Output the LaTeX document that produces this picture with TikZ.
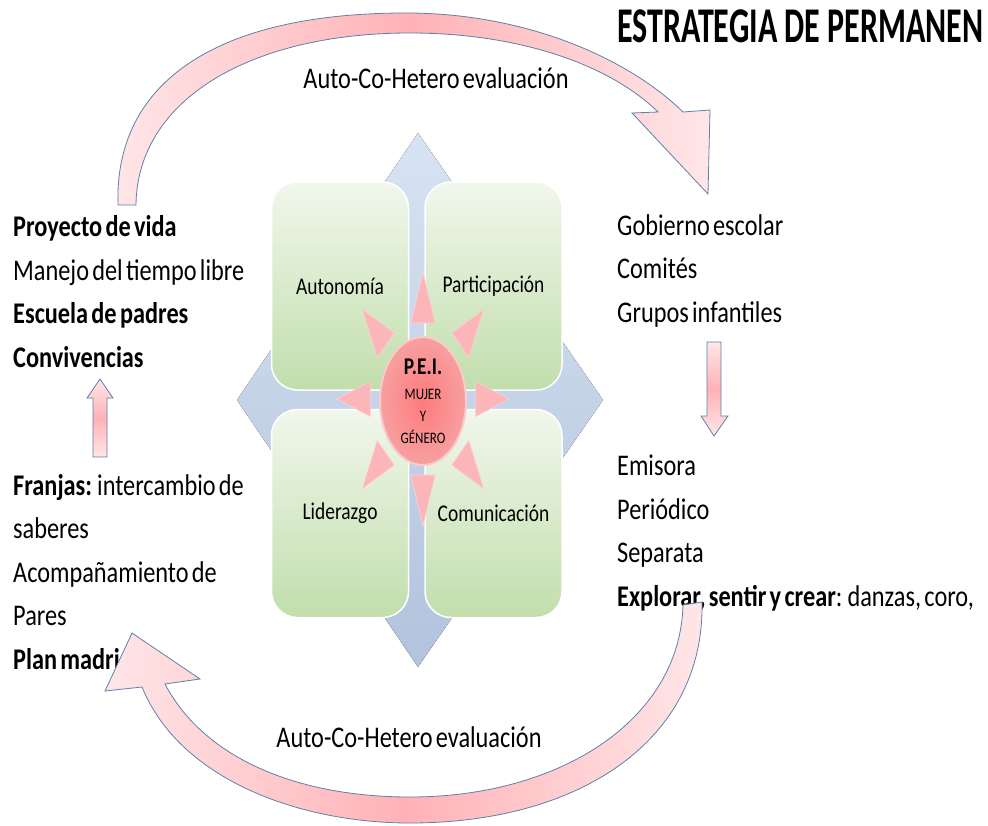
\documentclass[tikz,border=0pt]{standalone}
\usepackage{fontspec}
\setmainfont[FakeStretch=0.81,WordSpace=0.6]{Carlito}
\newfontfamily\titlefont[FakeStretch=0.64]{Carlito}
\usetikzlibrary{
		calc,
		positioning,
		shapes.geometric
	}
\definecolor{pinkL}{RGB}{255,230,232}
\definecolor{pinkM}{RGB}{255,178,182}
\definecolor{arrowline}{RGB}{95,128,170}
\definecolor{blueT}{RGB}{216,227,242}
\definecolor{blueB}{RGB}{178,195,221}
\definecolor{greenT}{RGB}{241,247,236}
\definecolor{greenB}{RGB}{193,222,172}
\definecolor{sunpink}{RGB}{252,182,186}
\definecolor{peiIn}{RGB}{255,122,124}
\definecolor{peiOut}{RGB}{246,160,160}
\tikzset{
		>=stealth
	}

\begin{document}
\begin{tikzpicture}[x=1pt, y=-1pt,
		greenbox/.style={draw=white, line width=1.5pt, rounded corners=26pt, minimum width=137pt, minimum height=208pt, top color=greenT, bottom color=greenB, inner sep=0pt, font=\fontsize{24}{28}\selectfont},
		sidetext/.style={anchor=base west, align=left, inner sep=0pt, font=\fontsize{30}{43.5}\selectfont}, % base = last line
		evaltext/.style={anchor=base, inner sep=0pt, font=\fontsize{30}{36}\selectfont},
		bigarrow/.style={draw=arrowline, line width=0.8pt, left color=pinkL, right color=pinkL, middle color=pinkM},
		smallarrow/.style={draw=arrowline, line width=0.8pt, top color=pinkL, bottom color=pinkL, middle color=pinkM},
		sunray/.style={fill=sunpink, draw=white!40!sunpink, line width=0.6pt}]
		\clip (0,0) rectangle (988,825);
		\fill[top color=blueT, bottom color=blueB] (418,133) -- (603,400) -- (418,667) -- (237,400) -- cycle; % diamond behind the boxes
		\node[greenbox] (bauto) at (340,286) {Autonomía};
		\node[greenbox, right=15pt of bauto] (bpart) {Participación};
		\node[greenbox, below=18pt of bauto] (blid) {Liderazgo};
		\node[greenbox, right=15pt of blid] (bcom) {Comunicación};
		\coordinate (c) at (423,399);
		\foreach \a in {0,45,...,315}
			\draw[sunray] ($(c)+({86*cos(\a)},{127*sin(\a)})$) -- ($(c)+({54*cos(\a-13)},{78*sin(\a-13)})$) -- ($(c)+({54*cos(\a+13)},{78*sin(\a+13)})$) -- cycle;
		\node[ellipse, draw=white!45!peiOut, line width=2pt, inner color=peiIn, outer color=peiOut, minimum width=86pt, minimum height=128pt, inner sep=0pt, align=center, font=\fontsize{16}{22}\selectfont] (pei) at (423,401) {{\fontsize{24}{24}\selectfont\bfseries P.E.I.}\\[3pt]MUJER\\Y\\GÉNERO};
		\node[anchor=base west, inner sep=0pt, font=\titlefont\bfseries\fontsize{50}{50}\selectfont] (title) at (617,42) {ESTRATEGIA DE PERMANEN};
		\node[sidetext] (lblockA) at (13,367) {\textbf{Proyecto de vida}\\Manejo del tiempo libre\\\textbf{Escuela de padres}\\\textbf{Convivencias}};
		\node[sidetext] (lblockB) at (13,669) {\textbf{Franjas:} intercambio de\\saberes\\Acompañamiento de\\Pares\\\textbf{Plan madri}};
		\node[sidetext] (rblockA) at (617,322) {Gobierno escolar\\Comités\\Grupos infantiles};
		\node[sidetext] (rblockB) at (617,606) {Emisora\\Periódico\\Separata\\\textbf{Explorar, sentir y crear}: danzas, coro,};
		\node[evaltext] (evaltop) at (436,88) {Auto-Co-Hetero evaluación};
		\node[evaltext] (evalbot) at (409,747) {Auto-Co-Hetero evaluación};
		% top arc, left to right
		\draw[bigarrow] (118,205) .. controls (114,80) and (220,12) .. (410,13) .. controls (530,14) and (630,60) .. (683,112) -- (710,110) -- (708,194) -- (632,113) -- (658,112) .. controls (610,65) and (520,33) .. (410,33) .. controls (250,33) and (137,100) .. (136,205) -- cycle;
		% bottom arc, right to left
		\draw[bigarrow] (683,605) .. controls (680,720) and (560,797) .. (410,797) .. controls (300,797) and (205,760) .. (165,684) -- (200,679) -- (132,633) -- (105,691) -- (142,687) .. controls (180,780) and (300,823) .. (410,823) .. controls (580,823) and (705,740) .. (702,602) -- cycle;
		\draw[smallarrow] (93,457) -- (93,398) -- (87,398) -- (100,379) -- (113,398) -- (107,398) -- (107,457) -- cycle;
		\draw[smallarrow] (707,342) -- (707,416) -- (701,416) -- (714,436) -- (728,416) -- (721,416) -- (721,342) -- cycle;
	\end{tikzpicture}
\end{document}
